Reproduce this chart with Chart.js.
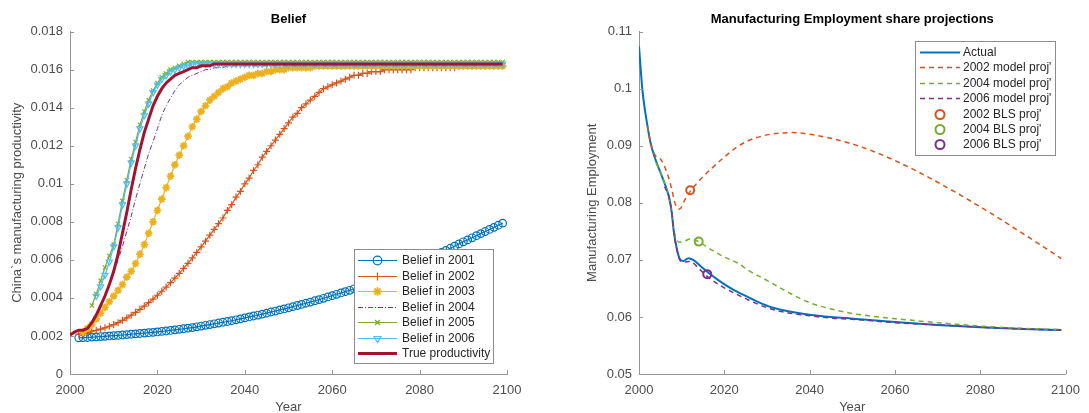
<!DOCTYPE html>
<html lang="en">
<head>
<meta charset="UTF-8">
<title>Belief and manufacturing employment</title>
<script src="https://cdn.jsdelivr.net/npm/chart.js"></script>
<style>
  html, body { margin: 0; padding: 0; background: #fff; }
  body { width: 1089px; height: 413px; position: relative; overflow: hidden; }
  .panel { position: absolute; top: 0; height: 413px; }
  #left { left: 0; width: 540px; }
  #right { left: 540px; width: 549px; }
</style>
</head>
<body>
<div class="panel" id="left"><canvas id="beliefChart"></canvas></div>
<div class="panel" id="right"><canvas id="employmentChart"></canvas></div>

<script>
// ---- left panel: beliefs about China's manufacturing productivity (one value per year) ----
const belief2001Start = 2002;
const belief2001 = [
  0.00190, 0.00191, 0.00192, 0.00194, 0.00195, 0.00197, 0.00198, 0.00200, 0.00202, 0.00203,
  0.00205, 0.00207, 0.00209, 0.00211, 0.00213, 0.00215, 0.00217, 0.00219, 0.00221, 0.00224,
  0.00226, 0.00229, 0.00232, 0.00235, 0.00238, 0.00241, 0.00244, 0.00248, 0.00252, 0.00256,
  0.00260, 0.00264, 0.00268, 0.00272, 0.00276, 0.00280, 0.00285, 0.00290, 0.00295, 0.00300,
  0.00305, 0.00310, 0.00315, 0.00320, 0.00326, 0.00331, 0.00337, 0.00342, 0.00348, 0.00354,
  0.00360, 0.00366, 0.00372, 0.00378, 0.00385, 0.00391, 0.00398, 0.00405, 0.00412, 0.00419,
  0.00426, 0.00433, 0.00440, 0.00448, 0.00455, 0.00463, 0.00471, 0.00479, 0.00487, 0.00495,
  0.00506, 0.00515, 0.00525, 0.00535, 0.00545, 0.00555, 0.00565, 0.00575, 0.00586, 0.00596,
  0.00607, 0.00617, 0.00628, 0.00639, 0.00650, 0.00661, 0.00672, 0.00684, 0.00695, 0.00705,
  0.00716, 0.00727, 0.00738, 0.00749, 0.00760, 0.00771, 0.00782, 0.00793
];
const belief2002Start = 2002;
const belief2002 = [
  0.00210, 0.00213, 0.00218, 0.00225, 0.00230, 0.00236, 0.00243, 0.00251, 0.00260, 0.00270,
  0.00282, 0.00295, 0.00309, 0.00324, 0.00340, 0.00357, 0.00375, 0.00394, 0.00414, 0.00435,
  0.00457, 0.00480, 0.00504, 0.00529, 0.00555, 0.00582, 0.00610, 0.00639, 0.00668, 0.00698,
  0.00730, 0.00760, 0.00790, 0.00820, 0.00860, 0.00890, 0.00930, 0.00960, 0.01000, 0.01030,
  0.01070, 0.01100, 0.01140, 0.01170, 0.01200, 0.01230, 0.01260, 0.01290, 0.01320, 0.01350,
  0.01370, 0.01400, 0.01420, 0.01440, 0.01460, 0.01480, 0.01500, 0.01510, 0.01520, 0.01530,
  0.01540, 0.01550, 0.01560, 0.01570, 0.01570, 0.01580, 0.01580, 0.01590, 0.01590, 0.01590,
  0.01600, 0.01600, 0.01600, 0.01600, 0.01600, 0.01600, 0.01600, 0.01610, 0.01610, 0.01610,
  0.01610, 0.01610, 0.01610, 0.01610, 0.01610, 0.01610, 0.01610, 0.01620, 0.01620, 0.01620,
  0.01620, 0.01620, 0.01620, 0.01620, 0.01620, 0.01620, 0.01620, 0.01620
];
const belief2003Start = 2003;
const belief2003 = [
  0.0022, 0.0024, 0.0026, 0.0029, 0.0032, 0.0035, 0.0038, 0.0041, 0.0044, 0.0047,
  0.0051, 0.0054, 0.0058, 0.0063, 0.0068, 0.0074, 0.0080, 0.0086, 0.0092, 0.0098,
  0.0104, 0.0110, 0.0115, 0.0120, 0.0125, 0.0130, 0.0134, 0.0138, 0.0141, 0.0144,
  0.0146, 0.0148, 0.0150, 0.0151, 0.0153, 0.0154, 0.0155, 0.0156, 0.0157, 0.0157,
  0.0158, 0.0158, 0.0159, 0.0159, 0.0160, 0.0160, 0.0160, 0.0161, 0.0161, 0.0161,
  0.0161, 0.0161, 0.0161, 0.0162, 0.0162, 0.0162, 0.0162, 0.0162, 0.0162, 0.0162,
  0.0162, 0.0162, 0.0162, 0.0162, 0.0162, 0.0162, 0.0162, 0.0162, 0.0162, 0.0162,
  0.0162, 0.0162, 0.0162, 0.0162, 0.0162, 0.0162, 0.0162, 0.0162, 0.0162, 0.0162,
  0.0162, 0.0162, 0.0162, 0.0162, 0.0162, 0.0162, 0.0162, 0.0162, 0.0162, 0.0162,
  0.0162, 0.0162, 0.0162, 0.0162, 0.0162, 0.0162, 0.0162
];
const belief2004Start = 2004;
const belief2004 = [
  0.0024, 0.0027, 0.0031, 0.0036, 0.0041, 0.0047, 0.0053, 0.0060, 0.0067, 0.0075,
  0.0083, 0.0092, 0.0100, 0.0108, 0.0116, 0.0122, 0.0129, 0.0136, 0.0141, 0.0145,
  0.0149, 0.0152, 0.0154, 0.0156, 0.0157, 0.0158, 0.0159, 0.0160, 0.0160, 0.0161,
  0.0161, 0.0161, 0.0162, 0.0162, 0.0162, 0.0162, 0.0162, 0.0162, 0.0162, 0.0162,
  0.0162, 0.0162, 0.0162, 0.0162, 0.0162, 0.0162, 0.0162, 0.0162, 0.0162, 0.0162,
  0.0162, 0.0162, 0.0162, 0.0162, 0.0162, 0.0162, 0.0162, 0.0162, 0.0162, 0.0162,
  0.0162, 0.0162, 0.0162, 0.0162, 0.0162, 0.0162, 0.0162, 0.0162, 0.0162, 0.0162,
  0.0162, 0.0162, 0.0162, 0.0162, 0.0162, 0.0162, 0.0162, 0.0162, 0.0162, 0.0162,
  0.0162, 0.0162, 0.0162, 0.0162, 0.0162, 0.0162, 0.0162, 0.0162, 0.0162, 0.0162,
  0.0162, 0.0162, 0.0162, 0.0162, 0.0162, 0.0162
];
const belief2005Start = 2005;
const belief2005 = [
  0.0036, 0.0042, 0.0049, 0.0056, 0.0062, 0.0068, 0.0079, 0.0091, 0.0102, 0.0113,
  0.0122, 0.0131, 0.0138, 0.0144, 0.0149, 0.0153, 0.0156, 0.0158, 0.0160, 0.0161,
  0.0162, 0.0163, 0.0164, 0.0164, 0.0164, 0.0164, 0.0164, 0.0164, 0.0164, 0.0164,
  0.0164, 0.0164, 0.0164, 0.0164, 0.0164, 0.0164, 0.0164, 0.0164, 0.0164, 0.0164,
  0.0164, 0.0164, 0.0164, 0.0164, 0.0164, 0.0164, 0.0164, 0.0164, 0.0164, 0.0164,
  0.0164, 0.0164, 0.0164, 0.0164, 0.0164, 0.0164, 0.0164, 0.0164, 0.0164, 0.0164,
  0.0164, 0.0164, 0.0164, 0.0164, 0.0164, 0.0164, 0.0164, 0.0164, 0.0164, 0.0164,
  0.0164, 0.0164, 0.0164, 0.0164, 0.0164, 0.0164, 0.0164, 0.0164, 0.0164, 0.0164,
  0.0164, 0.0164, 0.0164, 0.0164, 0.0164, 0.0164, 0.0164, 0.0164, 0.0164, 0.0164,
  0.0164, 0.0164, 0.0164, 0.0164, 0.0164
];
const belief2006Start = 2006;
const belief2006 = [
  0.0041, 0.0046, 0.0052, 0.0059, 0.0067, 0.0077, 0.0089, 0.0100, 0.0111, 0.0120,
  0.0129, 0.0136, 0.0142, 0.0148, 0.0152, 0.0155, 0.0157, 0.0159, 0.0160, 0.0161,
  0.0162, 0.0162, 0.0163, 0.0163, 0.0163, 0.0163, 0.0163, 0.0163, 0.0163, 0.0163,
  0.0163, 0.0163, 0.0163, 0.0163, 0.0163, 0.0163, 0.0163, 0.0163, 0.0163, 0.0163,
  0.0163, 0.0163, 0.0163, 0.0163, 0.0163, 0.0163, 0.0163, 0.0163, 0.0163, 0.0163,
  0.0163, 0.0163, 0.0163, 0.0163, 0.0163, 0.0163, 0.0163, 0.0163, 0.0163, 0.0163,
  0.0163, 0.0163, 0.0163, 0.0163, 0.0163, 0.0163, 0.0163, 0.0163, 0.0163, 0.0163,
  0.0163, 0.0163, 0.0163, 0.0163, 0.0163, 0.0163, 0.0163, 0.0163, 0.0163, 0.0163,
  0.0163, 0.0163, 0.0163, 0.0163, 0.0163, 0.0163, 0.0163, 0.0163, 0.0163, 0.0163,
  0.0163, 0.0163, 0.0163, 0.0163
];
const trueStart = 2000;
const trueProductivity = [
  0.00205, 0.0022, 0.0023, 0.0023, 0.0024, 0.0027, 0.0031, 0.0036, 0.0041, 0.0047,
  0.0054, 0.0063, 0.0074, 0.0085, 0.0097, 0.0108, 0.0118, 0.0127, 0.0134, 0.0141,
  0.0146, 0.0150, 0.0153, 0.0155, 0.0157, 0.0158, 0.0159, 0.0160, 0.0161, 0.0161,
  0.0162, 0.0162, 0.0162, 0.0163, 0.0163, 0.0163, 0.0163, 0.0163, 0.0163, 0.0163,
  0.0163, 0.0163, 0.0163, 0.0163, 0.0163, 0.0163, 0.0163, 0.0163, 0.0163, 0.0163,
  0.0163, 0.0163, 0.0163, 0.0163, 0.0163, 0.0163, 0.0163, 0.0163, 0.0163, 0.0163,
  0.0163, 0.0163, 0.0163, 0.0163, 0.0163, 0.0163, 0.0163, 0.0163, 0.0163, 0.0163,
  0.0163, 0.0163, 0.0163, 0.0163, 0.0163, 0.0163, 0.0163, 0.0163, 0.0163, 0.0163,
  0.0163, 0.0163, 0.0163, 0.0163, 0.0163, 0.0163, 0.0163, 0.0163, 0.0163, 0.0163,
  0.0163, 0.0163, 0.0163, 0.0163, 0.0163, 0.0163, 0.0163, 0.0163, 0.0163, 0.0163
];

// ---- right panel: manufacturing employment share ----
const actualYears = [2000, 2000.8, 2002, 2002.8, 2003.9, 2005.4, 2007, 2007.7, 2008.1, 2008.9, 2009.7, 2010.4, 2011.6, 2012.7, 2014.6, 2016.5, 2018.5, 2020.5, 2022.3, 2025, 2028, 2031, 2035, 2040, 2045, 2050, 2060, 2070, 2080, 2090, 2099];
const actualShare = [0.1074, 0.0998, 0.0934, 0.0902, 0.0875, 0.0846, 0.0811, 0.0782, 0.0753, 0.0718, 0.0700, 0.0698, 0.0703, 0.0700, 0.0688, 0.0676, 0.0665, 0.0655, 0.0647, 0.0637, 0.0626, 0.0617, 0.0610, 0.0604, 0.0600, 0.0597, 0.0591, 0.0586, 0.0582, 0.0579, 0.0577];

const model2002Years = [2002, 2002.8, 2003.9, 2005.1, 2006.6, 2007.7, 2008.5, 2009.5, 2010.8, 2012, 2014, 2017, 2020, 2023, 2026, 2030, 2033, 2036, 2040, 2045, 2050, 2055, 2060, 2065, 2070, 2075, 2080, 2085, 2090, 2095, 2099];
const model2002Share = [0.0934, 0.0902, 0.0882, 0.0876, 0.0852, 0.0823, 0.0798, 0.0789, 0.0806, 0.0820, 0.0838, 0.0860, 0.0880, 0.0898, 0.0910, 0.0919, 0.0922, 0.0923, 0.0920, 0.0913, 0.0903, 0.0890, 0.0874, 0.0856, 0.0836, 0.0815, 0.0793, 0.0770, 0.0746, 0.0722, 0.0702];

const model2004Years = [2004, 2005.4, 2007, 2007.7, 2008.1, 2008.7, 2009.5, 2010.5, 2012, 2014, 2016, 2018, 2020, 2023, 2026, 2030, 2035, 2040, 2045, 2050, 2055, 2060, 2070, 2080, 2090, 2099];
const model2004Share = [0.0870, 0.0846, 0.0811, 0.0782, 0.0755, 0.0738, 0.0731, 0.0732, 0.0737, 0.0732, 0.0722, 0.0713, 0.0705, 0.0695, 0.0680, 0.0664, 0.0643, 0.0625, 0.0614, 0.0606, 0.0601, 0.0597, 0.0590, 0.0584, 0.0580, 0.0578];

const model2006Years = [2006, 2007, 2007.7, 2008.1, 2008.9, 2009.7, 2010.5, 2012, 2014, 2016, 2018, 2020, 2022, 2025, 2028, 2031, 2035, 2040, 2045, 2050, 2060, 2070, 2080, 2090, 2099];
const model2006Share = [0.0828, 0.0811, 0.0782, 0.0753, 0.0717, 0.0698, 0.0696, 0.0697, 0.0685, 0.0671, 0.0660, 0.0651, 0.0643, 0.0632, 0.0622, 0.0614, 0.0607, 0.0602, 0.0598, 0.0596, 0.0590, 0.0586, 0.0582, 0.0579, 0.0577];

const blsYears = [2012, 2014, 2016];
const blsShare = [0.0822, 0.0732, 0.0675];

// ---- ticks ----
const yearTicks = [2000, 2020, 2040, 2060, 2080, 2100];
const beliefTicks = [0, 0.002, 0.004, 0.006, 0.008, 0.01, 0.012, 0.014, 0.016, 0.018];
const shareTicks = [0.05, 0.06, 0.07, 0.08, 0.09, 0.1, 0.11];

const FONT = 'Arial, "Liberation Sans", Helvetica, sans-serif';
const AXIS = '#969696';
const TICK = '#4d4d4d';
const CLEAR = 'rgba(0,0,0,0)';
Chart.defaults.font.family = FONT;
Chart.defaults.font.size = 13;
Chart.defaults.color = TICK;

function fromStart(start, values) {
  return values.map((v, i) => ({ x: start + i, y: v }));
}
function fromYears(years, values) {
  return years.map((yr, i) => ({ x: yr, y: values[i] }));
}

// matlab-like legend box drawn inside the axes
const boxLegend = {
  id: 'boxLegend',
  afterDatasetsDraw(chart, args, o) {
    const ctx = chart.ctx, a = chart.chartArea;
    const x0 = Math.round(a.right - o.right - o.width);
    const y0 = Math.round(o.top != null ? a.top + o.top : a.bottom - o.bottom - o.height);
    ctx.save();
    ctx.fillStyle = '#fff';
    ctx.fillRect(x0, y0, o.width, o.height);
    ctx.strokeStyle = '#8c8c8c';
    ctx.lineWidth = 1;
    ctx.strokeRect(x0 + 0.5, y0 + 0.5, o.width, o.height);
    ctx.font = '12px ' + FONT;
    ctx.textBaseline = 'middle';
    chart.data.datasets.forEach((ds, i) => {
      const y = Math.round(y0 + o.firstRow + i * o.rowGap) + 0.5;
      const xa = x0 + o.sampleFrom, xb = x0 + o.sampleTo;
      if (ds.showLine !== false) {
        ctx.beginPath();
        ctx.setLineDash(ds.borderDash || []);
        ctx.strokeStyle = ds.borderColor;
        ctx.lineWidth = ds.borderWidth;
        ctx.moveTo(xa, y);
        ctx.lineTo(xb, y);
        ctx.stroke();
        ctx.setLineDash([]);
      }
      if (ds.pointRadius > 0) {
        ctx.strokeStyle = ds.borderColor;
        ctx.fillStyle = CLEAR;
        ctx.lineWidth = ds.pointBorderWidth;
        Chart.helpers.drawPoint(ctx, {
          pointStyle: ds.pointStyle, radius: ds.pointRadius + 0.5,
          rotation: ds.pointRotation || 0, borderWidth: ds.pointBorderWidth
        }, (xa + xb) / 2, y);
      }
      ctx.fillStyle = '#262626';
      ctx.fillText(ds.label, x0 + o.textX, y);
    });
    ctx.restore();
  }
};

// short tick marks pointing into the plot
const inwardTicks = {
  id: 'inwardTicks',
  afterDatasetsDraw(chart) {
    const { ctx, chartArea: a, scales: { x, y } } = chart;
    ctx.save();
    ctx.strokeStyle = AXIS;
    ctx.lineWidth = 1;
    ctx.beginPath();
    x.ticks.forEach(t => {
      const px = Math.round(x.getPixelForValue(t.value)) + 0.5;
      ctx.moveTo(px, a.bottom);
      ctx.lineTo(px, a.bottom - 4);
    });
    y.ticks.forEach(t => {
      const py = Math.round(y.getPixelForValue(t.value)) + 0.5;
      ctx.moveTo(a.left, py);
      ctx.lineTo(a.left + 4, py);
    });
    ctx.stroke();
    ctx.restore();
  }
};

function makeScales(yTicks, yTitle, yWidth, yTitlePad, digits) {
  return {
    x: {
      type: 'linear', min: 2000, max: 2100,
      afterBuildTicks: s => { s.ticks = yearTicks.map(v => ({ value: v })); },
      afterFit: s => { s.height = 39; },
      grid: { display: false, drawTicks: false },
      border: { display: true, color: AXIS, width: 1 },
      ticks: { padding: 9, color: TICK, maxRotation: 0, callback: v => String(v) },
      title: { display: true, text: 'Year', color: TICK, padding: { top: 0, bottom: -2 } }
    },
    y: {
      type: 'linear', min: yTicks[0], max: yTicks[yTicks.length - 1],
      afterBuildTicks: s => { s.ticks = yTicks.map(v => ({ value: v })); },
      afterFit: s => { s.width = yWidth; },
      grid: { display: false, drawTicks: false },
      border: { display: true, color: AXIS, width: 1 },
      ticks: { padding: 7, color: TICK, callback: v => String(+v.toFixed(digits)) },
      title: { display: true, text: yTitle, color: TICK, padding: { top: yTitlePad, bottom: 0 } }
    }
  };
}

function titleOpts(text) {
  return {
    display: true, text: text, color: '#000', fullSize: false,
    font: { size: 13, weight: 'bold' }, padding: { top: 12, bottom: 4 }
  };
}

const lineBase = { borderWidth: 1.2, pointRadius: 3, pointBorderWidth: 1.2, pointBackgroundColor: CLEAR, backgroundColor: CLEAR, fill: false, tension: 0 };

new Chart(document.getElementById('beliefChart'), {
  type: 'line',
  data: {
    datasets: [
      { ...lineBase, label: 'Belief in 2001', data: fromStart(belief2001Start, belief2001), borderColor: '#0072BD', pointBorderColor: '#0072BD', pointStyle: 'circle', pointRadius: 3.8, order: 6 },
      { ...lineBase, label: 'Belief in 2002', data: fromStart(belief2002Start, belief2002), borderColor: '#D95319', pointBorderColor: '#D95319', pointStyle: 'cross', pointRadius: 3.5, order: 5 },
      { ...lineBase, label: 'Belief in 2003', data: fromStart(belief2003Start, belief2003), borderColor: '#EDB120', pointBorderColor: '#EDB120', pointStyle: 'star', pointRadius: 3.8, pointBorderWidth: 1.8, order: 4 },
      { ...lineBase, label: 'Belief in 2004', data: fromStart(belief2004Start, belief2004), borderColor: '#7E2F8E', pointRadius: 0, borderWidth: 1, borderDash: [5, 2, 1, 2], order: 3 },
      { ...lineBase, label: 'Belief in 2005', data: fromStart(belief2005Start, belief2005), borderColor: '#77AC30', pointBorderColor: '#77AC30', pointStyle: 'crossRot', pointRadius: 3, order: 2 },
      { ...lineBase, label: 'Belief in 2006', data: fromStart(belief2006Start, belief2006), borderColor: '#4DBEEE', pointBorderColor: '#4DBEEE', pointStyle: 'triangle', pointRotation: 180, pointRadius: 3.5, order: 1 },
      { ...lineBase, label: 'True productivity', data: fromStart(trueStart, trueProductivity), borderColor: '#A2142F', borderWidth: 3, pointRadius: 0, order: 0 }
    ]
  },
  options: {
    responsive: true, maintainAspectRatio: false, animation: false, events: [],
    layout: { padding: { left: 0, right: 33, top: 0, bottom: 0 } },
    scales: makeScales(beliefTicks, 'China`s manufacturing productivity', 70, 10, 3),
    plugins: {
      legend: { display: false }, tooltip: { enabled: false },
      title: titleOpts('Belief'),
      boxLegend: { right: 14, bottom: 11, width: 139, height: 114, firstRow: 11, rowGap: 15.5, sampleFrom: 4, sampleTo: 43, textX: 48 }
    }
  },
  plugins: [boxLegend, inwardTicks]
});

new Chart(document.getElementById('employmentChart'), {
  type: 'line',
  data: {
    datasets: [
      { label: 'Actual', data: fromYears(actualYears, actualShare), borderColor: '#0072BD', borderWidth: 2, pointRadius: 0, cubicInterpolationMode: 'monotone', order: 6 },
      { label: "2002 model proj'", data: fromYears(model2002Years, model2002Share), borderColor: '#D95319', borderWidth: 1.5, borderDash: [5, 4], pointRadius: 0, cubicInterpolationMode: 'monotone', order: 5 },
      { label: "2004 model proj'", data: fromYears(model2004Years, model2004Share), borderColor: '#77AC30', borderWidth: 1.5, borderDash: [5, 4], pointRadius: 0, cubicInterpolationMode: 'monotone', order: 4 },
      { label: "2006 model proj'", data: fromYears(model2006Years, model2006Share), borderColor: '#7E2F8E', borderWidth: 1.5, borderDash: [5, 4], pointRadius: 0, cubicInterpolationMode: 'monotone', order: 3 },
      { label: "2002 BLS proj'", data: [{ x: blsYears[0], y: blsShare[0] }], showLine: false, borderColor: '#D95319', pointBorderColor: '#D95319', pointBackgroundColor: CLEAR, pointStyle: 'circle', pointRadius: 4, pointBorderWidth: 2, order: 2 },
      { label: "2004 BLS proj'", data: [{ x: blsYears[1], y: blsShare[1] }], showLine: false, borderColor: '#77AC30', pointBorderColor: '#77AC30', pointBackgroundColor: CLEAR, pointStyle: 'circle', pointRadius: 4, pointBorderWidth: 2, order: 1 },
      { label: "2006 BLS proj'", data: [{ x: blsYears[2], y: blsShare[2] }], showLine: false, borderColor: '#7E2F8E', pointBorderColor: '#7E2F8E', pointBackgroundColor: CLEAR, pointStyle: 'circle', pointRadius: 4, pointBorderWidth: 2, order: 0 }
    ]
  },
  options: {
    responsive: true, maintainAspectRatio: false, animation: false, events: [],
    layout: { padding: { left: 0, right: 15, top: 0, bottom: 0 } },
    scales: makeScales(shareTicks, 'Manufacturing Employment', 99, 45, 2),
    plugins: {
      legend: { display: false }, tooltip: { enabled: false },
      title: titleOpts('Manufacturing Employment share projections'),
      boxLegend: { right: 11, top: 9, width: 140, height: 114, firstRow: 11, rowGap: 15.4, sampleFrom: 5, sampleTo: 45, textX: 48 }
    }
  },
  plugins: [boxLegend, inwardTicks]
});
</script>
</body>
</html>
